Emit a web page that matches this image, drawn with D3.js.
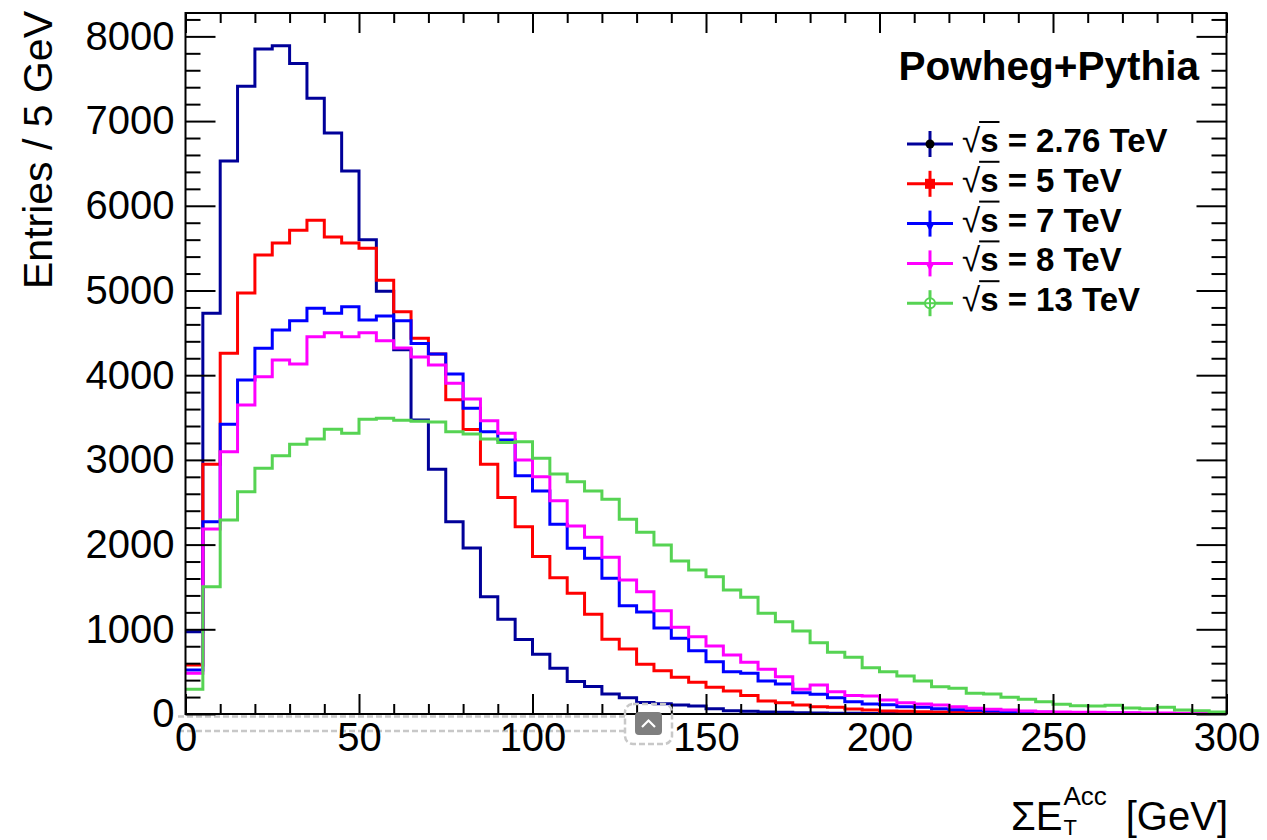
<!DOCTYPE html>
<html><head><meta charset="utf-8">
<script src="https://cdn.jsdelivr.net/npm/d3@7"></script>
<style>
body{margin:0;background:#fff}
svg{display:block}
text{font-family:"Liberation Sans",Arial,Helvetica,sans-serif;fill:#000}
</style>
</head><body>
<svg id="c" width="1267" height="840"></svg>
<script>
// ---------------- data ----------------
const binWidth = 5;           // GeV per bin
const xMax = 300;
const yMax = 8276;
const energies = ["2.76 TeV", "5 TeV", "7 TeV", "8 TeV", "13 TeV"];
const colors = ["#000099", "#ff0000", "#0000ff", "#ff00ff", "#56d353"];
const markerKinds = ["circle", "square", "triangle", "triangle", "opencircle"];
const xTicks = [0, 50, 100, 150, 200, 250, 300];
const yTicks = [0, 1000, 2000, 3000, 4000, 5000, 6000, 7000, 8000];

const h276 = [970,4730,6530,7410,7850,7890,7680,7270,6860,6410,
              5600,4990,4300,3470,2890,2270,1960,1385,1120,880,
              705,540,385,325,236,193,136,120,106,94,
              62,38,31,25,20,16,13,10,8,7,
              5,4,4,3,2,2,2,1,1,1,
              1,1,0,0,0,0,0,0,0,0];
const h5 = [578,2950,4260,4970,5420,5560,5710,5830,5630,5560,
            5500,5120,4750,4435,4250,3710,3360,2950,2555,2210,
            1860,1610,1425,1177,882,767,588,510,435,376,
            315,272,217,154,134,106,87,79,59,47,
            35,31,28,24,20,16,14,12,10,8,
            7,6,5,4,4,3,3,2,2,2];
const h7 = [519,2270,3420,3943,4317,4534,4644,4790,4731,4809,
            4652,4699,4644,4375,4250,4014,3609,3333,3235,2814,
            2633,2239,1956,1838,1602,1279,1205,1015,893,748,
            618,500,480,390,354,252,232,193,146,118,
            110,87,79,63,51,43,35,28,24,20,
            16,16,12,12,8,7,6,5,5,4];
const h8 = [480,2184,3097,3648,3983,4179,4132,4455,4502,4455,
            4502,4407,4320,4215,4120,3904,3719,3463,3314,2999,
            2802,2518,2220,2086,1850,1582,1444,1218,1025,913,
            803,697,610,527,441,291,342,264,217,213,
            165,134,118,106,87,67,55,47,35,28,
            24,20,20,16,16,12,12,8,8,6];
const h13 = [291,1503,2290,2625,2901,3050,3184,3247,3361,3314,
             3479,3491,3467,3455,3447,3333,3306,3247,3204,3215,
             3018,2834,2743,2633,2535,2299,2147,1995,1805,1700,
             1621,1464,1378,1189,1090,980,842,728,669,547,
             500,449,390,323,303,244,236,197,173,146,
             114,98,94,102,71,63,79,47,39,24];
const histos = [h276, h5, h7, h8, h13];

// ---------------- layout ----------------
const L = 185.5, R = 1226.5, T = 13, B = 714;
const svg = d3.select("#c");
const x = d3.scaleLinear().domain([0, xMax]).range([L, R]);
const y = d3.scaleLinear().domain([0, yMax]).range([B, T]);

// decorative viewer overlay lines (behind labels)
const ovl = svg.append("g");
[716.5, 731].forEach(yy => {
  ovl.append("line").attr("x1",178).attr("x2",626).attr("y1",yy).attr("y2",yy)
    .attr("stroke","#c8c8c8").attr("stroke-width",2.5).attr("stroke-dasharray","6,3");
});

// clip
svg.append("defs").append("clipPath").attr("id","frame")
  .append("rect").attr("x",L).attr("y",T).attr("width",R-L).attr("height",B-T);

// histograms
const stepLine = d3.line().x(d => x(d[0])).y(d => y(d[1])).curve(d3.curveStepAfter);
const hg = svg.append("g").attr("clip-path","url(#frame)");
histos.forEach((h, k) => {
  const pts = h.map((v, i) => [i * binWidth, v]);
  pts.push([xMax, h[h.length - 1]]);
  hg.append("path").attr("d", stepLine(pts)).attr("fill","none")
    .attr("stroke", colors[k]).attr("stroke-width", 3).attr("stroke-linejoin","miter");
});

// axes
const xMinor = d3.range(0, xMax + 1, 10).filter(v => v % 50);
const yMinor = d3.range(0, 8201, 200).filter(v => v % 1000);
function styleAxis(g, fs) {
  g.select(".domain").remove();
  g.selectAll(".tick line").attr("stroke","#000").attr("stroke-width",2);
  g.selectAll("text").attr("font-size", fs).attr("fill","#000")
    .style("font-family","'Liberation Sans',Arial,sans-serif");
}
svg.append("g").attr("transform",`translate(0,${B})`)
  .call(d3.axisBottom(x).tickValues(xMinor).tickSize(-10).tickFormat(""))
  .call(g => styleAxis(g, 0));
svg.append("g").attr("transform",`translate(0,${B})`)
  .call(d3.axisBottom(x).tickValues(xTicks).tickSize(-20).tickPadding(9).tickFormat(d3.format("d")))
  .call(g => styleAxis(g, 40));
svg.append("g").attr("transform",`translate(0,${T})`)
  .call(d3.axisTop(x).tickValues(xMinor).tickSize(-10).tickFormat(""))
  .call(g => styleAxis(g, 0));
svg.append("g").attr("transform",`translate(0,${T})`)
  .call(d3.axisTop(x).tickValues(xTicks).tickSize(-20).tickFormat(""))
  .call(g => styleAxis(g, 0));
svg.append("g").attr("transform",`translate(${L},0)`)
  .call(d3.axisLeft(y).tickValues(yMinor).tickSize(-15).tickFormat(""))
  .call(g => styleAxis(g, 0));
svg.append("g").attr("transform",`translate(${L},0)`)
  .call(d3.axisLeft(y).tickValues(yTicks).tickSize(-30).tickPadding(11).tickFormat(d3.format("d")))
  .call(g => styleAxis(g, 40));
svg.append("g").attr("transform",`translate(${R},0)`)
  .call(d3.axisRight(y).tickValues(yMinor).tickSize(-15).tickFormat(""))
  .call(g => styleAxis(g, 0));
svg.append("g").attr("transform",`translate(${R},0)`)
  .call(d3.axisRight(y).tickValues(yTicks).tickSize(-30).tickFormat(""))
  .call(g => styleAxis(g, 0));

// frame
svg.append("rect").attr("x",L).attr("y",T).attr("width",R-L).attr("height",B-T)
  .attr("fill","none").attr("stroke","#000").attr("stroke-width",2);

// overlay button
svg.append("rect").attr("x",625).attr("y",704).attr("width",47).attr("height",40).attr("rx",8)
  .attr("fill","none").attr("stroke","#c8c8c8").attr("stroke-width",2.5).attr("stroke-dasharray","6,3");
svg.append("rect").attr("x",635).attr("y",712).attr("width",27).attr("height",23).attr("rx",4)
  .attr("fill","#7f7f7f");
svg.append("path").attr("d","M642,727 L648.5,720.5 L655,727").attr("fill","none")
  .attr("stroke","#fff").attr("stroke-width",2.2);

// axis titles
svg.append("text").attr("transform","translate(52,11) rotate(-90)")
  .attr("text-anchor","end").attr("font-size",41).text("Entries / 5 GeV");

const xt = svg.append("g");
const xtMain = xt.append("text").attr("x",1011).attr("y",830).attr("font-size",40).text("ΣE");
const wMain = xtMain.node().getComputedTextLength();
const sx = 1011 + wMain + 1;
xt.append("text").attr("x",sx).attr("y",805).attr("font-size",26).text("Acc");
xt.append("text").attr("x",sx).attr("y",835).attr("font-size",22).text("T");
xt.append("text").attr("x",1228).attr("y",830).attr("font-size",40).attr("text-anchor","end").text("[GeV]");

// header
svg.append("text").attr("x",1199).attr("y",80).attr("text-anchor","end")
  .attr("font-size",40.5).attr("font-weight","bold").text("Powheg+Pythia");

// legend
const legX0 = 907, legX1 = 953, legXc = 930, legY0 = 144, legDy = 39.8;
energies.forEach((lab, k) => {
  const cy = legY0 + k * legDy;
  const g = svg.append("g");
  g.append("line").attr("x1",legX0).attr("x2",legX1).attr("y1",cy).attr("y2",cy)
    .attr("stroke",colors[k]).attr("stroke-width",3);
  g.append("line").attr("x1",legXc).attr("x2",legXc).attr("y1",cy-13).attr("y2",cy+13)
    .attr("stroke",colors[k]).attr("stroke-width",3);
  const kind = markerKinds[k];
  if (kind === "circle") {
    g.append("circle").attr("cx",legXc).attr("cy",cy).attr("r",4.5).attr("fill","#000");
  } else if (kind === "square") {
    g.append("rect").attr("x",legXc-5).attr("y",cy-5).attr("width",10).attr("height",10).attr("fill",colors[k]);
  } else if (kind === "triangle") {
    g.append("path").attr("d",d3.symbol(d3.symbolTriangle, 40)()).attr("transform",`translate(${legXc},${cy+2}) rotate(180)`)
      .attr("fill",colors[k]);
  } else {
    g.append("circle").attr("cx",legXc).attr("cy",cy).attr("r",5).attr("fill","#fff")
      .attr("stroke",colors[k]).attr("stroke-width",2);
    g.append("line").attr("x1",legXc-5).attr("x2",legXc+5).attr("y1",cy).attr("y2",cy).attr("stroke",colors[k]).attr("stroke-width",2);
    g.append("line").attr("x1",legXc).attr("x2",legXc).attr("y1",cy-5).attr("y2",cy+5).attr("stroke",colors[k]).attr("stroke-width",2);
  }
  const t = g.append("text").attr("x",962).attr("y",cy+8).attr("font-size",33).attr("font-weight","bold");
  t.append("tspan").attr("font-weight","normal").text("√");
  t.append("tspan").text("s = " + lab);
  const node = t.node();
  const wRad = node.getSubStringLength(0,1);
  const wS = node.getSubStringLength(1,1);
  g.append("line").attr("x1",962 + wRad - 1).attr("x2",962 + wRad + wS + 1)
    .attr("y1",cy-22).attr("y2",cy-22).attr("stroke","#000").attr("stroke-width",2);
});
</script>
</body></html>
